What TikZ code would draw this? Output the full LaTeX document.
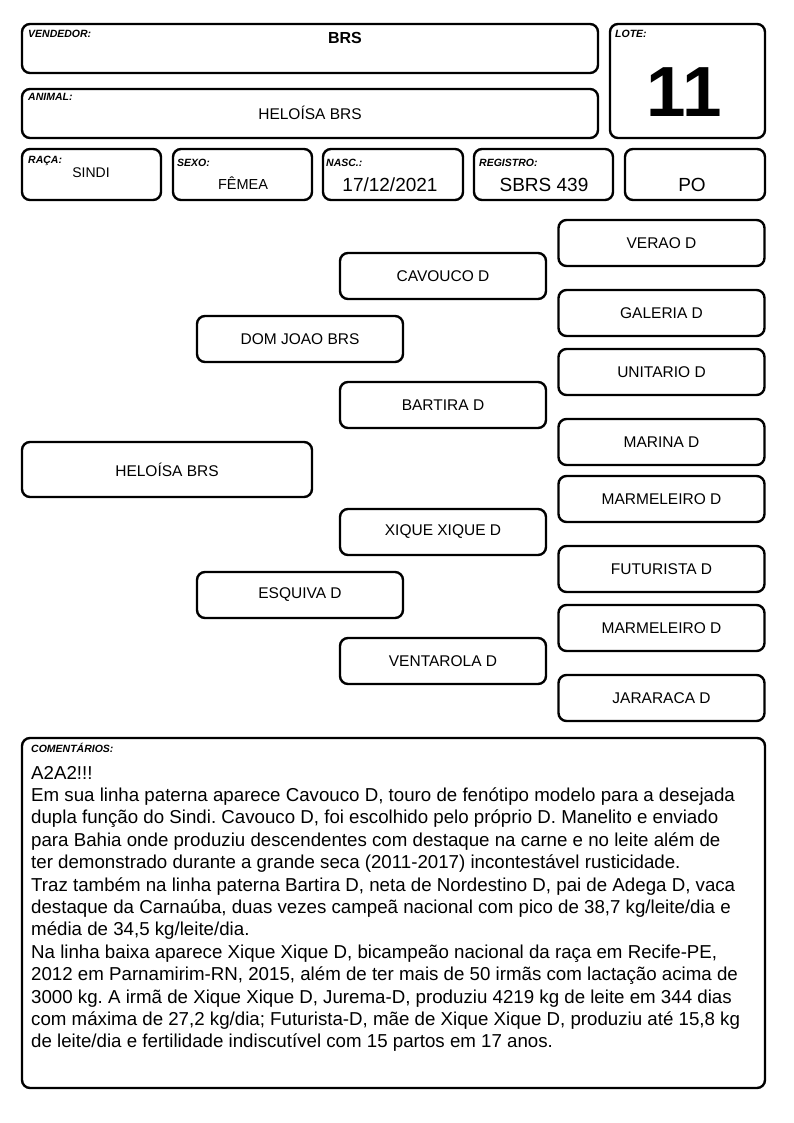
\documentclass[tikz,border=0pt]{standalone}
\usepackage{fontspec}
\setmainfont{Liberation Sans}
\begin{document}
\frenchspacing
\begin{tikzpicture}[x=1pt,y=-1pt,
  bx/.style={draw=black, line width=2.4pt, rounded corners=8pt, fill=white, inner sep=0pt},
  ped/.style={bx, minimum width=206pt, minimum height=46pt, font=\fontsize{15.5}{18}\selectfont},
  lbl/.style={anchor=base west, inner sep=0pt, font=\fontsize{10.5}{12}\selectfont\bfseries\itshape},
  val/.style={inner sep=0pt, font=\fontsize{15.5}{18}\selectfont},
  valbig/.style={inner sep=0pt, font=\fontsize{19}{22}\selectfont},
  cline/.style={anchor=base west, inner sep=0pt, font=\fontsize{18.7}{22}\selectfont}]
\useasboundingbox[fill=white] (0,0) rectangle (794,1123);

% header boxes
\node[bx, minimum width=576pt, minimum height=49pt] (vend) at (310,48.5) {};
\node[bx, minimum width=155pt, minimum height=114pt] (lote) at (687.5,81) {};
\node[bx, minimum width=576pt, minimum height=49pt] (anim) at (310,113.5) {};
\node[bx, minimum width=139pt, minimum height=51pt] (raca) at (91.5,174.5) {};
\node[bx, minimum width=139pt, minimum height=51pt] (sexo) at (242.5,174.5) {};
\node[bx, minimum width=140pt, minimum height=51pt] (nasc) at (393,174.5) {};
\node[bx, minimum width=139pt, minimum height=51pt] (regi) at (543.5,174.5) {};
\node[bx, minimum width=140pt, minimum height=51pt] (po) at (695,174.5) {};

% header labels
\node[lbl] (lvend) at (28,38) {VENDEDOR:};
\node[lbl] (llote) at (615,38) {LOTE:};
\node[lbl] (lanim) at (28,101) {ANIMAL:};
\node[lbl] (lraca) at (28,164) {RAÇA:};
\node[lbl] (lsexo) at (177,167) {SEXO:};
\node[lbl] (lnasc) at (326,167) {NASC.:};
\node[lbl] (lregi) at (479,167) {REGISTRO:};

% header values
\node[val, font=\fontsize{16}{18}\selectfont\bfseries] (tvend) at (345,38) {BRS};
\node[inner sep=0pt, font=\fontsize{71}{80}\selectfont\bfseries] (tlote) at (684,92) {11};
\node[val] (tanim) at (310,113) {HELOÍSA BRS};
\node[val, font=\fontsize{14}{16}\selectfont] (traca) at (91,173) {SINDI};
\node[val, font=\fontsize{14.5}{16}\selectfont] (tsexo) at (243,183.5) {FÊMEA};
\node[valbig] (tnasc) at (390,185) {17/12/2021};
\node[valbig] (tregi) at (544,185) {SBRS 439};
\node[valbig] (tpo) at (692,185) {PO};

% pedigree
\node[bx, minimum width=290pt, minimum height=55pt, font=\fontsize{15.5}{18}\selectfont] (self) at (167,469.5) {HELOÍSA BRS};
\node[ped] (sire) at (300,339) {DOM JOAO BRS};
\node[ped] (dam) at (300,595) {ESQUIVA D};
\node[ped] (ss) at (443,276) {CAVOUCO D};
\node[ped] (sd) at (443,405) {BARTIRA D};
\node[ped] (ds) at (443,532) {XIQUE XIQUE D};
\node[ped] (dd) at (443,661) {VENTAROLA D};
\node[ped] (sss) at (661.5,243) {VERAO D};
\node[ped] (ssd) at (661.5,313) {GALERIA D};
\node[ped] (sds) at (661.5,372) {UNITARIO D};
\node[ped] (sdd) at (661.5,442) {MARINA D};
\node[ped] (dss) at (661.5,499) {MARMELEIRO D};
\node[ped] (dsd) at (661.5,569) {FUTURISTA D};
\node[ped] (dds) at (661.5,628) {MARMELEIRO D};
\node[ped] (ddd) at (661.5,698) {JARARACA D};

% comments
\node[bx, minimum width=743pt, minimum height=350pt] (com) at (393.5,913) {};
\node[lbl] (lcom) at (31,752) {COMENTÁRIOS:};
\foreach \t [count=\i from 0] in {
{A2A2!!!},
{Em sua linha paterna aparece Cavouco D, touro de fenótipo modelo para a desejada},
{dupla função do Sindi. Cavouco D, foi escolhido pelo próprio D. Manelito e enviado},
{para Bahia onde produziu descendentes com destaque na carne e no leite além de},
{ter demonstrado durante a grande seca (2011-2017) incontestável rusticidade.},
{Traz também na linha paterna Bartira D, neta de Nordestino D, pai de Adega D, vaca},
{destaque da Carnaúba, duas vezes campeã nacional com pico de 38,7 kg/leite/dia e},
{média de 34,5 kg/leite/dia.},
{Na linha baixa aparece Xique Xique D, bicampeão nacional da raça em Recife-PE,},
{2012 em Parnamirim-RN, 2015, além de ter mais de 50 irmãs com lactação acima de},
{3000 kg. A irmã de Xique Xique D, Jurema-D, produziu 4219 kg de leite em 344 dias},
{com máxima de 27,2 kg/dia; Futurista-D, mãe de Xique Xique D, produziu até 15,8 kg},
{de leite/dia e fertilidade indiscutível com 15 partos em 17 anos.}}
  \node[cline] (c\i) at (31,779+22.4*\i) {\t};
\end{tikzpicture}
\end{document}
